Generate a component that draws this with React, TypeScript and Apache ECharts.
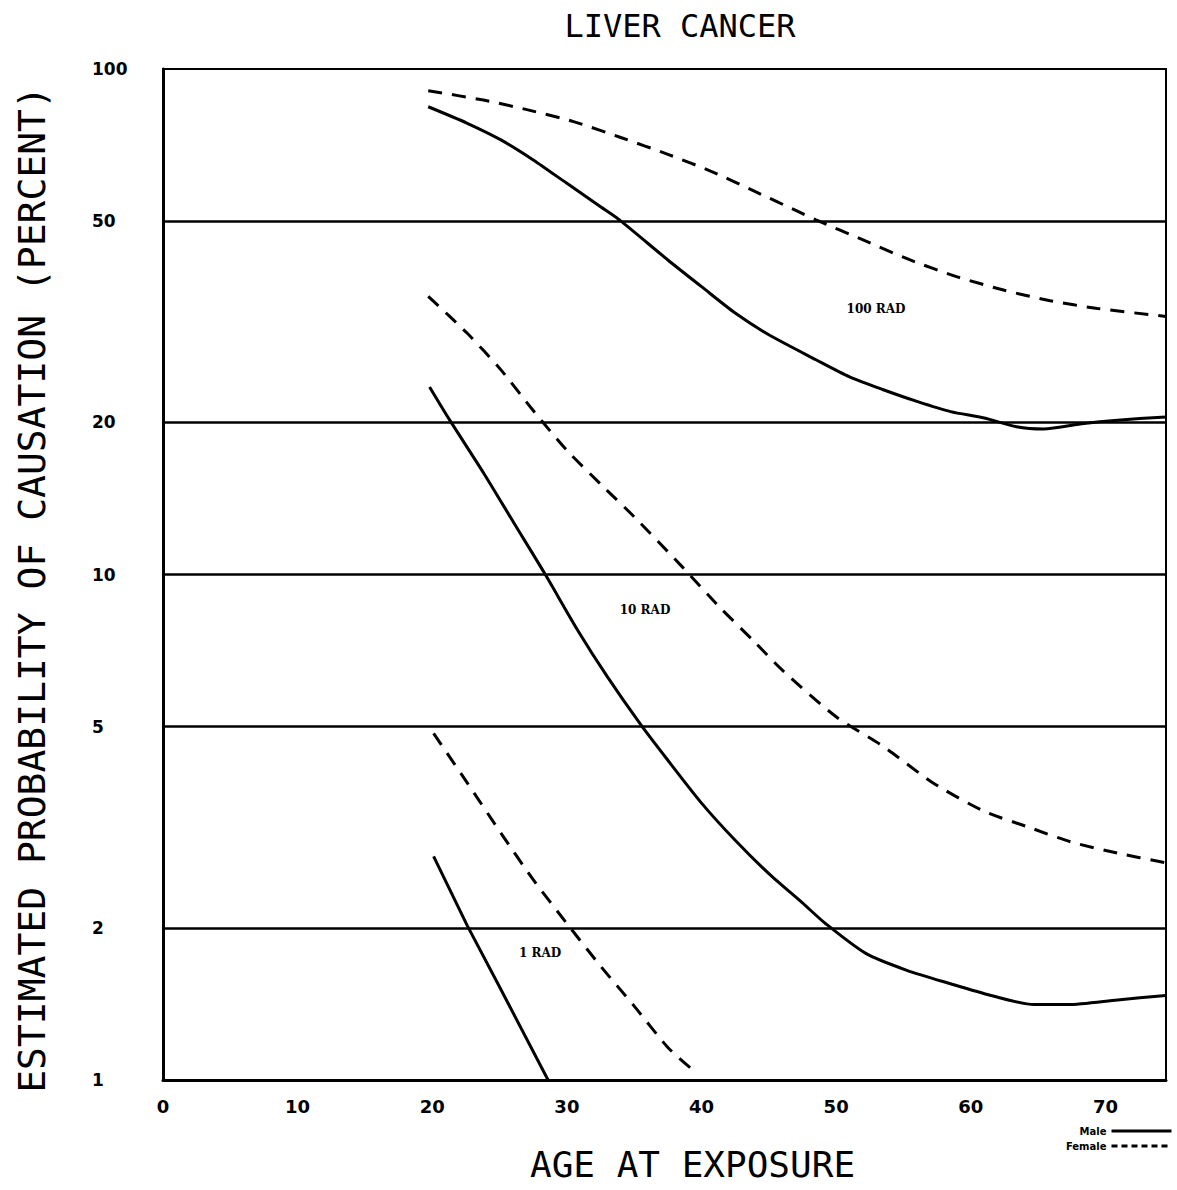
import React, { useEffect, useRef } from "react";
import * as echarts from "echarts";

// ---- Data ----
const titleText = "LIVER CANCER";
const xAxisTitle = "AGE AT EXPOSURE";
const yAxisTitle = "ESTIMATED PROBABILITY OF CAUSATION (PERCENT)";

const yTickValues = [1, 2, 5, 10, 20, 50, 100];
const gridValues = [2, 5, 10, 20, 50];

// 100 RAD
const male100Ages = [19.7, 22.6, 25.1, 27.5, 30.0, 32.5, 33.9, 37.5, 40.0, 42.5, 45.0, 48.5, 51.0, 53.5, 56.0, 58.5, 61.0, 63.4, 65.4, 68.4, 70.9, 74.5];
const male100 = [84.2, 78.1, 72.4, 66.1, 59.4, 53.4, 50.3, 41.9, 37.1, 32.9, 29.8, 26.6, 24.6, 23.2, 22.0, 21.0, 20.4, 19.6, 19.4, 19.9, 20.2, 20.5];
const female100Ages = [19.7, 23.8, 27.1, 30.5, 34.0, 37.5, 40.8, 44.0, 47.2, 48.5, 52.0, 55.5, 59.0, 62.5, 65.9, 69.4, 74.5];
const female100 = [90.6, 86.8, 83.0, 78.7, 73.2, 67.8, 62.6, 57.2, 52.2, 50.3, 45.9, 41.9, 38.8, 36.5, 34.8, 33.6, 32.4];

// 10 RAD
const male10Ages = [19.8, 21.3, 23.8, 26.1, 28.3, 30.8, 33.0, 35.5, 37.5, 40.0, 42.5, 45.0, 47.5, 49.2, 52.2, 55.2, 58.5, 61.5, 64.7, 67.2, 70.9, 74.5];
const male10 = [23.5, 20.2, 15.9, 12.6, 10.1, 7.76, 6.28, 5.04, 4.29, 3.53, 2.98, 2.56, 2.24, 2.04, 1.78, 1.65, 1.55, 1.47, 1.41, 1.41, 1.44, 1.47];
const female10Ages = [19.7, 22.6, 25.1, 27.5, 30.0, 32.5, 35.0, 38.5, 41.3, 43.8, 46.0, 50.0, 53.5, 57.2, 61.0, 64.2, 67.4, 70.9, 74.5];
const female10 = [35.5, 30.0, 25.4, 21.1, 17.6, 15.1, 13.0, 10.4, 8.64, 7.42, 6.47, 5.23, 4.57, 3.87, 3.40, 3.17, 2.96, 2.81, 2.69];

// 1 RAD
const male1Ages = [20.1, 22.6, 25.1, 28.6];
const male1 = [2.77, 2.02, 1.51, 1.0];
const female1Ages = [20.1, 22.6, 25.1, 27.5, 30.0, 32.5, 35.0, 37.5, 39.3];
const female1 = [4.85, 3.87, 3.08, 2.49, 2.04, 1.68, 1.40, 1.16, 1.05];

const doseLabels = ["100 RAD", "10 RAD", "1 RAD"];
const legendNames = ["Male", "Female"];

const zip = (xs: number[], ys: number[]) => xs.map((x, i) => [x, ys[i]]);

export default function App() {
  const ref = useRef<HTMLDivElement>(null);
  useEffect(() => {
    document.body.style.margin = "0";
    const chart = echarts.init(ref.current!, null, { renderer: "svg" });
    const solid = { color: "#000", width: 3, type: "solid" as const };
    const dashed = { color: "#000", width: 3, type: [14, 10] as any };
    const mkSeries = (name: string, data: number[][], ls: any, extra: any = {}) => ({
      type: "line",
      name,
      data,
      symbol: "none",
      smooth: 0.25,
      lineStyle: ls,
      itemStyle: { color: "#000" },
      silent: true,
      z: 3,
      ...extra,
    });
    const option: any = {
      animation: false,
      backgroundColor: "#fff",
      grid: {
        left: 163,
        right: 11,
        top: 69,
        bottom: 110,
        show: true,
        borderColor: "#000",
        borderWidth: 2,
        backgroundColor: "transparent",
      },
      legend: {
        data: [
          { name: legendNames[0], lineStyle: { type: "solid", width: 3, color: "#000" } },
          { name: legendNames[1], lineStyle: { type: [6, 4], width: 3, color: "#000" } },
        ],
        orient: "vertical",
        right: 4,
        top: 1126,
        align: "right",
        itemWidth: 60,
        itemHeight: 10,
        itemGap: 5,
        padding: 0,
        itemStyle: { opacity: 0 },
        textStyle: { fontSize: 10, fontWeight: "bold", color: "#000", fontFamily: "DejaVu Sans" },
      },
      xAxis: {
        type: "value",
        min: 0,
        max: 74.5,
        interval: 10,
        name: xAxisTitle,
        nameLocation: "middle",
        nameGap: 66,
        nameTextStyle: {
          fontFamily: "DejaVu Sans Mono",
          fontSize: 36,
          color: "#000",
          padding: [0, 0, 0, 56],
        },
        axisLine: { show: true, lineStyle: { color: "#000", width: 3 } },
        axisTick: { show: false },
        splitLine: { show: false },
        axisLabel: {
          showMaxLabel: false,
          margin: 17,
          color: "#000",
          fontFamily: "DejaVu Sans",
          fontWeight: "bold",
          fontSize: 18,
        },
      },
      yAxis: {
        type: "log",
        logBase: 10,
        min: 1,
        max: 100,
        name: yAxisTitle,
        nameLocation: "middle",
        nameRotate: 90,
        nameGap: 112,
        nameTextStyle: {
          fontFamily: "DejaVu Sans Mono",
          fontSize: 38,
          color: "#000",
          padding: [0, 30, 0, 0],
        },
        axisLine: { show: true, lineStyle: { color: "#000", width: 3 } },
        axisTick: { show: false },
        splitLine: { show: false },
        minorSplitLine: { show: false },
        axisLabel: {
          customValues: yTickValues,
          align: "left",
          margin: 71,
          color: "#000",
          fontFamily: "DejaVu Sans",
          fontWeight: "bold",
          fontSize: 17,
          formatter: (v: number) => String(Math.round(v)),
        },
      },
      series: [
        mkSeries("Male", zip(male100Ages, male100), solid, {
          markLine: {
            silent: true,
            symbol: "none",
            label: { show: false },
            lineStyle: { color: "#000", width: 2.5, type: "solid" },
            data: gridValues.map((v) => ({ yAxis: v })),
          },
        }),
        mkSeries("Female", zip(female100Ages, female100), dashed),
        mkSeries("Male", zip(male10Ages, male10), solid),
        mkSeries("Female", zip(female10Ages, female10), dashed),
        mkSeries("Male", zip(male1Ages, male1), solid, { smooth: false }),
        mkSeries("Female", zip(female1Ages, female1), dashed),
      ],
      graphic: [
        {
          type: "text",
          x: 680,
          y: 10,
          style: {
            text: titleText,
            textAlign: "center",
            font: '32px "DejaVu Sans Mono"',
            fill: "#000",
          },
        },
        {
          type: "text",
          x: 876,
          y: 309,
          style: { text: doseLabels[0], textAlign: "center", textVerticalAlign: "middle", font: 'bold 12px "DejaVu Serif"', fill: "#000" },
        },
        {
          type: "text",
          x: 645,
          y: 610,
          style: { text: doseLabels[1], textAlign: "center", textVerticalAlign: "middle", font: 'bold 12px "DejaVu Serif"', fill: "#000" },
        },
        {
          type: "text",
          x: 540,
          y: 953,
          style: { text: doseLabels[2], textAlign: "center", textVerticalAlign: "middle", font: 'bold 12px "DejaVu Serif"', fill: "#000" },
        },
      ],
    };
    chart.setOption(option);
    return () => chart.dispose();
  }, []);
  return <div ref={ref} style={{ width: 1177, height: 1190, background: "#fff" }} />;
}
